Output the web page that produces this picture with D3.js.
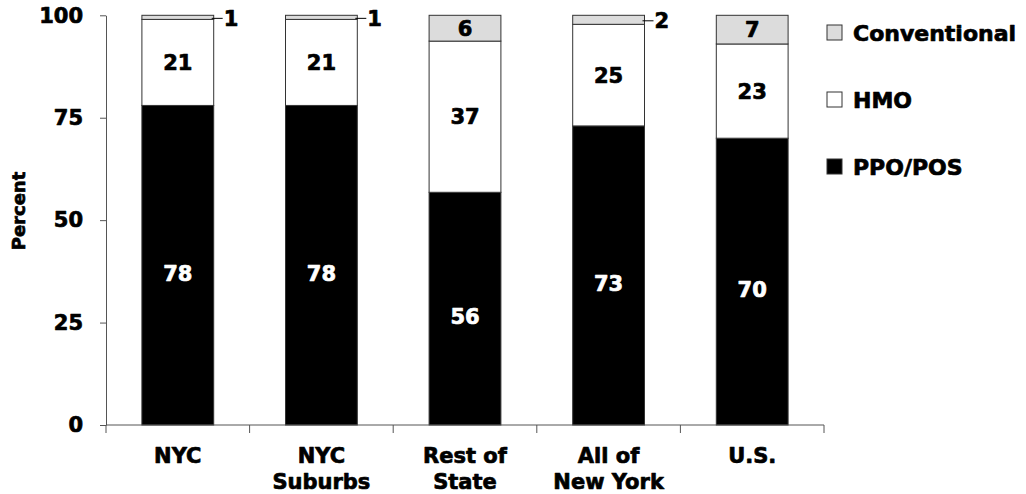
<!DOCTYPE html>
<html>
<head>
<meta charset="utf-8">
<script src="https://cdn.jsdelivr.net/npm/d3@7"></script>
<style>
  html, body { margin: 0; padding: 0; background: #fff; }
  svg { display: block; }
  text { font-family: "DejaVu Sans", sans-serif; font-weight: bold; stroke-width: 0.7px; stroke-linejoin: round; }
</style>
</head>
<body>
<svg id="chart" width="1026" height="494"></svg>
<script>
// ---- data ----
const categories = ["NYC", "NYC Suburbs", "Rest of State", "All of New York", "U.S."];
const categoryLines = [["NYC"], ["NYC", "Suburbs"], ["Rest of", "State"], ["All of", "New York"], ["U.S."]];
const ppoPos = [78, 78, 56.8, 73, 70];
const hmo = [21, 21, 36.9, 24.8, 23];
const conventional = [1, 1, 6.3, 2.2, 7];
const ppoLabels = ["78", "78", "56", "73", "70"];
const hmoLabels = ["21", "21", "37", "25", "23"];
const convLabels = ["1", "1", "6", "2", "7"];
const yTicks = [0, 25, 50, 75, 100];
const seriesNames = ["PPO/POS", "HMO", "Conventional"];
const legendOrder = ["Conventional", "HMO", "PPO/POS"];
const yTitle = "Percent";

// ---- build ----
const keys = ["ppo", "hmo", "conv"];
const rows = categories.map((c, i) => ({
  cat: c, ppo: ppoPos[i], hmo: hmo[i], conv: conventional[i],
  labels: { ppo: ppoLabels[i], hmo: hmoLabels[i], conv: convLabels[i] }
}));
const fills = { ppo: "#000000", hmo: "#ffffff", conv: "#dcdcdc" };
const textFill = { ppo: "#ffffff", hmo: "#000000", conv: "#000000" };

const svg = d3.select("#chart");
const plotLeft = 106, plotRight = 824, plotTop = 15.3, plotBottom = 425;

const x = d3.scaleBand().domain(categories).range([plotLeft, plotRight])
  .paddingInner(0.5).paddingOuter(0.25);
const y = d3.scaleLinear().domain([0, 100]).range([plotBottom, plotTop]);

const stack = d3.stack().keys(keys)(rows);

// bars
const g = svg.append("g");
stack.forEach(layer => {
  const key = layer.key;
  g.selectAll(null).data(layer).join("rect")
    .attr("x", d => x(d.data.cat))
    .attr("width", x.bandwidth())
    .attr("y", d => y(d[1]))
    .attr("height", d => y(d[0]) - y(d[1]))
    .attr("fill", fills[key])
    .attr("stroke", "#333")
    .attr("stroke-width", 1);
});

// labels
stack.forEach(layer => {
  const key = layer.key;
  layer.forEach(d => {
    const v = d[1] - d[0];
    const cx = x(d.data.cat) + x.bandwidth() / 2;
    const cy = (y(d[0]) + y(d[1])) / 2;
    const lab = d.data.labels[key];
    if (v >= 4) {
      const off = key === "ppo" ? 8 : 0;
      svg.append("text")
        .attr("x", cx).attr("y", cy + off)
        .attr("dy", "0.36em")
        .attr("text-anchor", "middle")
        .attr("font-size", 21)
        .attr("fill", textFill[key])
        .attr("stroke", textFill[key])
        .text(lab);
    } else {
      const xr = x(d.data.cat) + x.bandwidth();
      svg.append("line")
        .attr("x1", xr - 2).attr("x2", xr + 9)
        .attr("y1", cy + 1).attr("y2", cy + 1)
        .attr("stroke", "#000").attr("stroke-width", 1);
      svg.append("text")
        .attr("x", xr + 10).attr("y", cy + 1)
        .attr("dy", "0.36em")
        .attr("font-size", 21)
        .attr("fill", "#000").attr("stroke", "#000")
        .text(lab);
    }
  });
});

// y axis
const yAxis = svg.append("g")
  .attr("transform", `translate(${plotLeft},0)`)
  .call(d3.axisLeft(y).tickValues(yTicks).tickSize(6).tickSizeOuter(0).tickPadding(17));
yAxis.select(".domain").attr("stroke", "#555");
yAxis.selectAll(".tick line").attr("stroke", "#555");
yAxis.selectAll(".tick text")
  .attr("font-size", 21).attr("fill", "#000").attr("stroke", "#000")
  .attr("font-family", "DejaVu Sans").attr("font-weight", "bold");

// x axis
const xg = svg.append("g");
xg.append("line").attr("x1", plotLeft).attr("x2", plotRight)
  .attr("y1", plotBottom).attr("y2", plotBottom).attr("stroke", "#555");
const step = x.step();
const bounds = categories.map(c => x(c) - (step - x.bandwidth()) / 2).concat([plotRight]);
xg.selectAll(null).data(bounds).join("line")
  .attr("x1", d => d).attr("x2", d => d)
  .attr("y1", plotBottom).attr("y2", plotBottom + 8)
  .attr("stroke", "#555");
categories.forEach((c, i) => {
  const t = xg.append("text")
    .attr("x", x(c) + x.bandwidth() / 2)
    .attr("y", 455)
    .attr("text-anchor", "middle")
    .attr("font-size", 21)
    .attr("fill", "#000").attr("stroke", "#000");
  categoryLines[i].forEach((ln, j) => {
    t.append("tspan").attr("x", x(c) + x.bandwidth() / 2)
      .attr("y", 455 + j * 26).attr("dy", "0.36em").text(ln);
  });
});

// y title
svg.append("text")
  .attr("transform", `translate(18.5,211) rotate(-90)`)
  .attr("text-anchor", "middle")
  .attr("dy", "0.36em")
  .attr("font-size", 18)
  .attr("fill", "#000").attr("stroke", "#000")
  .text(yTitle);

// legend
const keyOf = { "Conventional": "conv", "HMO": "hmo", "PPO/POS": "ppo" };
const legendY = [33, 100, 167];
legendOrder.forEach((name, i) => {
  const k = keyOf[name];
  svg.append("rect")
    .attr("x", 827).attr("y", legendY[i] - 8)
    .attr("width", 15).attr("height", 15)
    .attr("fill", fills[k]).attr("stroke", "#333");
  svg.append("text")
    .attr("x", 853).attr("y", legendY[i])
    .attr("dy", "0.36em")
    .attr("font-size", 22)
    .attr("fill", "#000").attr("stroke", "#000")
    .text(name);
});
</script>
</body>
</html>
